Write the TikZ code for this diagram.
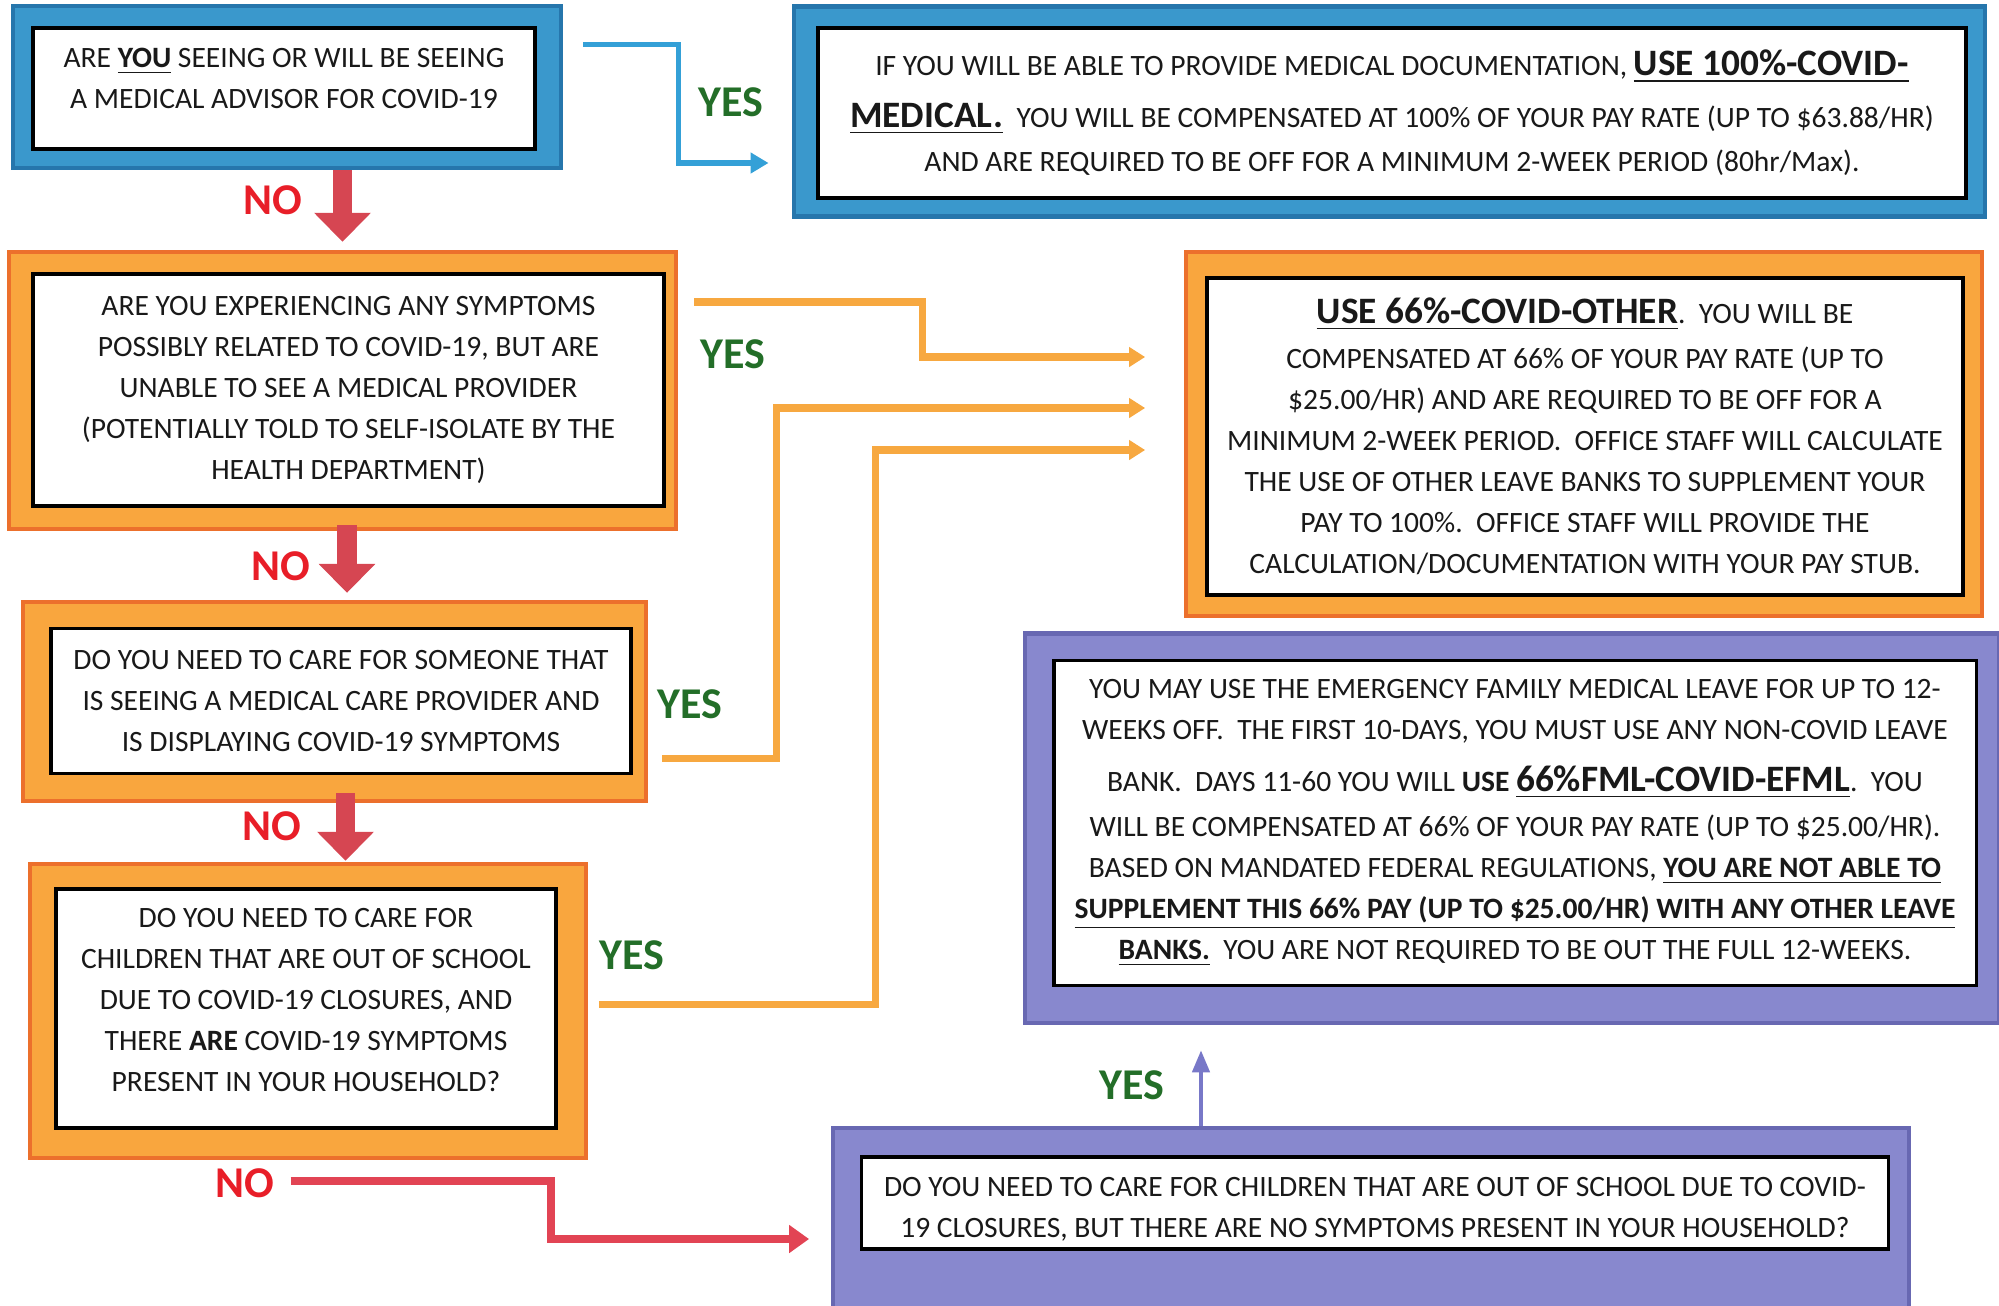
\documentclass[tikz,border=0pt]{standalone}
\usepackage{fontspec}
\setmainfont{Carlito}
\usepackage{xcolor}
\usepackage{tikz}
\usetikzlibrary{positioning,arrows.meta,calc}

\definecolor{frameblue}{RGB}{58,152,204}
\definecolor{edgeblue}{RGB}{38,118,172}
\definecolor{frameorange}{RGB}{249,166,62}
\definecolor{edgeorange}{RGB}{236,112,44}
\definecolor{framepurple}{RGB}{136,136,206}
\definecolor{edgepurple}{RGB}{104,104,178}
\definecolor{arrowred}{RGB}{214,70,82}
\definecolor{nored}{RGB}{232,30,40}
\definecolor{yesgreen}{RGB}{35,110,40}
\definecolor{lineorange}{RGB}{247,168,64}
\definecolor{lineblue}{RGB}{52,160,215}
\definecolor{linered}{RGB}{226,68,84}
\definecolor{linepurple}{RGB}{120,120,200}
\definecolor{textgray}{RGB}{25,25,25}

\newcommand{\paycode}[1]{\underline{\fontsize{10.6}{12}\selectfont\bfseries #1}}

\begin{document}
\begin{tikzpicture}[
    x=0.01cm, y=-0.01cm,
    outerbox/.style={
        rectangle,
        line width=1.2pt,
        inner sep=0pt
    },
    bluebox/.style={outerbox, draw=edgeblue, fill=frameblue},
    orangebox/.style={outerbox, draw=edgeorange, fill=frameorange},
    purplebox/.style={outerbox, draw=edgepurple, fill=framepurple},
    qbox/.style={
        draw=black,
        fill=white,
        rectangle,
        line width=1pt,
        inner sep=2pt,
        align=center,
        text=textgray,
        font=\fontsize{8.4}{11.7}\selectfont
    },
    yeslabel/.style={font=\fontsize{12.5}{14}\selectfont\bfseries, text=yesgreen},
    nolabel/.style={font=\fontsize{12.5}{14}\selectfont\bfseries, text=nored},
    nodown/.style={draw=arrowred, line width=0.19cm, -{Triangle[width=0.55cm,length=0.29cm]}},
    yesblue/.style={draw=lineblue, line width=1.5pt, -{Triangle[width=0.2cm,length=0.18cm]}},
    yesorange/.style={draw=lineorange, line width=2pt, -{Triangle[width=0.19cm,length=0.16cm]}},
    yespurple/.style={draw=linepurple, line width=1.2pt, -{Triangle[width=0.17cm,length=0.22cm]}},
    noside/.style={draw=linered, line width=2.2pt, -{Triangle[width=0.27cm,length=0.2cm]}}
]
\useasboundingbox (0,0) rectangle (1999,1305);

\node[bluebox, minimum width=5.48cm, minimum height=1.62cm] (q1f) at (287,87) {};
\node[qbox, minimum width=5.02cm, minimum height=1.21cm, text depth=6pt] (q1) at (284,88.5)
    {ARE \underline{\textbf{YOU}} SEEING OR WILL BE SEEING\\A MEDICAL ADVISOR FOR COVID-19};

\node[bluebox, minimum width=11.91cm, minimum height=2.10cm] (r1f) at (1389.5,111.5) {};
\node[qbox, minimum width=11.47cm, minimum height=1.70cm] (r1) at (1392,113)
    {IF YOU WILL BE ABLE TO PROVIDE MEDICAL DOCUMENTATION, \paycode{USE 100\%-COVID-}\\[3pt]
     \paycode{MEDICAL.}\ \ YOU WILL BE COMPENSATED AT 100\% OF YOUR PAY RATE (UP TO \$63.88/HR)\\[1pt]
     AND ARE REQUIRED TO BE OFF FOR A MINIMUM 2-WEEK PERIOD (80hr/Max).};

\node[orangebox, minimum width=6.67cm, minimum height=2.77cm] (q2f) at (342.5,390.5) {};
\node[qbox, minimum width=6.31cm, minimum height=2.32cm] (q2) at (348.5,390)
    {ARE YOU EXPERIENCING ANY SYMPTOMS\\POSSIBLY RELATED TO COVID-19, BUT ARE\\
     UNABLE TO SEE A MEDICAL PROVIDER\\(POTENTIALLY TOLD TO SELF-ISOLATE BY THE\\HEALTH DEPARTMENT)};

\node[orangebox, minimum width=7.96cm, minimum height=3.64cm] (r2f) at (1584,434) {};
\node[qbox, minimum width=7.56cm, minimum height=3.17cm] (r2) at (1585,436.5)
    {\paycode{USE 66\%-COVID-OTHER}.\ \ YOU WILL BE\\[1pt]
     COMPENSATED AT 66\% OF YOUR PAY RATE (UP TO\\
     \$25.00/HR) AND ARE REQUIRED TO BE OFF FOR A\\
     MINIMUM 2-WEEK PERIOD.\ \ OFFICE STAFF WILL CALCULATE\\
     THE USE OF OTHER LEAVE BANKS TO SUPPLEMENT YOUR\\
     PAY TO 100\%.\ \ OFFICE STAFF WILL PROVIDE THE\\
     CALCULATION/DOCUMENTATION WITH YOUR PAY STUB.};

\node[orangebox, minimum width=6.23cm, minimum height=1.99cm] (q3f) at (334.5,701.5) {};
\node[qbox, minimum width=5.80cm, minimum height=1.45cm] (q3) at (341,701)
    {DO YOU NEED TO CARE FOR SOMEONE THAT\\IS SEEING A MEDICAL CARE PROVIDER AND\\IS DISPLAYING COVID-19 SYMPTOMS};

\node[orangebox, minimum width=5.56cm, minimum height=2.94cm] (q4f) at (308,1011) {};
\node[qbox, minimum width=5.00cm, minimum height=2.39cm, text depth=5pt] (q4) at (306,1008.5)
    {DO YOU NEED TO CARE FOR\\CHILDREN THAT ARE OUT OF SCHOOL\\DUE TO COVID-19 CLOSURES, AND\\
     THERE \textbf{ARE} COVID-19 SYMPTOMS\\PRESENT IN YOUR HOUSEHOLD?};

\node[purplebox, minimum width=9.74cm, minimum height=3.89cm] (r3f) at (1512,828) {};
\node[qbox, minimum width=9.22cm, minimum height=3.25cm] (r3) at (1515,823)
    {YOU MAY USE THE EMERGENCY FAMILY MEDICAL LEAVE FOR UP TO 12-\\
     WEEKS OFF.\ \ THE FIRST 10-DAYS, YOU MUST USE ANY NON-COVID LEAVE\\[3pt]
     BANK.\ \ DAYS 11-60 YOU WILL \textbf{USE} \paycode{66\%FML-COVID-EFML}.\ \ YOU\\[1pt]
     WILL BE COMPENSATED AT 66\% OF YOUR PAY RATE (UP TO \$25.00/HR).\\
     BASED ON MANDATED FEDERAL REGULATIONS, \underline{\textbf{YOU ARE NOT ABLE TO}}\\
     \underline{\textbf{SUPPLEMENT THIS 66\% PAY (UP TO \$25.00/HR) WITH ANY OTHER LEAVE}}\\
     \underline{\textbf{BANKS.}}\ \ YOU ARE NOT REQUIRED TO BE OUT THE FULL 12-WEEKS.};

\node[purplebox, minimum width=10.75cm, minimum height=1.92cm] (q5f) at (1371,1224) {};
\node[qbox, minimum width=10.26cm, minimum height=0.92cm, text height=20.5pt] (q5) at (1375,1203)
    {DO YOU NEED TO CARE FOR CHILDREN THAT ARE OUT OF SCHOOL DUE TO COVID-\\
     19 CLOSURES, BUT THERE ARE NO SYMPTOMS PRESENT IN YOUR HOUSEHOLD?};

\node[nolabel] (no1) at (273,200) {NO};
\node[nolabel] (no2) at (280.5,566) {NO};
\node[nolabel] (no3) at (271.5,826) {NO};
\node[nolabel] (no4) at (245,1183) {NO};
\node[yeslabel] (yes1) at (730.5,102) {YES};
\node[yeslabel] (yes2) at (733,354) {YES};
\node[yeslabel] (yes3) at (690,704) {YES};
\node[yeslabel] (yes4) at (632,955) {YES};
\node[yeslabel] (yes5) at (1132,1085) {YES};

\draw[nodown] (q1f.south -| q2f.north) -- ($(q2f.north)+(0,-8)$);
\draw[nodown] ($(q2f.south)+(4.5,-6)$) -- ($(q2f.south |- q3f.north)+(4.5,-7)$);
\draw[nodown] ($(q3f.south)+(11,-10)$) -- ($(q3f.south |- q4f.north)+(11,-1)$);

\draw[yesblue] ($(q1f.east)+(20,-42.4)$) -- ++(95,0) |- ($(r1f.west)+(-23,51.5)$);
\draw[yesorange] ($(q2f.east)+(16,-88.5)$) -- ++(228.5,0) |- ($(r2f.west)+(-38.5,-77)$);
\draw[yesorange] ($(q3f.east)+(14,57)$) -- ++(114,0) |- ($(r2f.west)+(-38.5,-26)$);
\draw[yesorange] ($(q4f.east)+(10.6,-6.4)$) -- ++(276.4,0) |- ($(r2f.west)+(-38.5,16)$);
\draw[noside] ($(q4f.south)+(-17.3,21)$) -- ++(260.3,0) |- ($(q5f.west)+(-22,15)$);
\draw[yespurple] ($(q5f.north)+(-170,0)$) -- ($(q5f.north |- r3f.south)+(-170,25.5)$);

\end{tikzpicture}
\end{document}
